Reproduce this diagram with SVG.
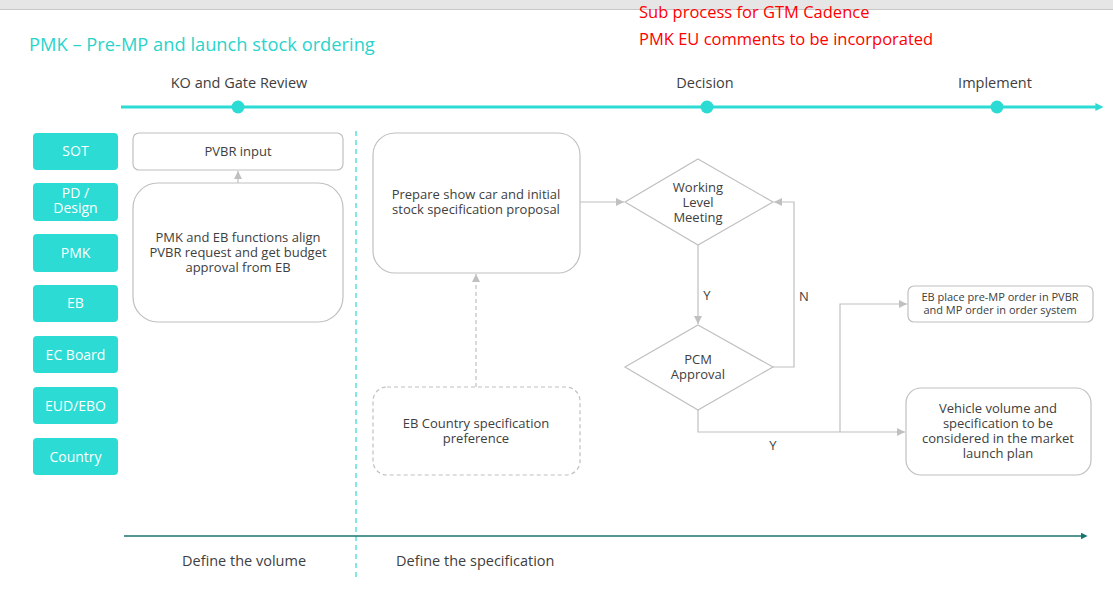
<svg xmlns="http://www.w3.org/2000/svg" width="1113" height="593" viewBox="0 0 1113 593">
<defs>
<style>
text{font-family:"Open Sans","Noto Sans","Liberation Sans",sans-serif;fill:#404040;}
.lane rect{fill:#2bdbd4;}
.lane text{fill:#ffffff;font-size:14px;text-anchor:middle;}
.box{fill:#ffffff;stroke:#c0c0c0;stroke-width:1.2;}
.dbox{fill:#ffffff;stroke:#c0c0c0;stroke-width:1.2;stroke-dasharray:4 3;}
.t{font-size:13px;text-anchor:middle;}
.c{fill:none;stroke:#c0c0c0;stroke-width:1.2;}
.hdr{font-size:14.5px;text-anchor:middle;}
.red{fill:#ff0000;font-size:16.5px;}
</style>
<marker id="ah" viewBox="0 0 10 10" refX="10" refY="5" markerWidth="8" markerHeight="8" markerUnits="userSpaceOnUse" orient="auto"><path d="M0,0 L10,5 L0,10 z" fill="#c0c0c0"/></marker>
<marker id="tah" viewBox="0 0 10 10" refX="2" refY="5" markerWidth="8" markerHeight="8" markerUnits="userSpaceOnUse" orient="auto"><path d="M0,0 L10,5 L0,10 z" fill="#2bdbd4"/></marker>
<marker id="dah" viewBox="0 0 10 10" refX="2" refY="5" markerWidth="7" markerHeight="7" markerUnits="userSpaceOnUse" orient="auto"><path d="M0,0 L10,5 L0,10 z" fill="#1a7470"/></marker>
</defs>
<rect x="0" y="0" width="1113" height="593" fill="#ffffff"/>
<rect x="0" y="0" width="1113" height="9" fill="#e6e6e6"/>
<line x1="0" y1="9.5" x2="1113" y2="9.5" stroke="#c8c8c8" stroke-width="1"/>

<g id="title"><text x="29" y="51" style="fill:#2bd3cc;font-size:18.3px">PMK – Pre-MP and launch stock ordering</text></g>
<g id="notes">
<text class="red" x="639" y="18">Sub process for GTM Cadence</text>
<text class="red" x="639" y="45">PMK EU comments to be incorporated</text>
</g>

<g id="timeline">
<line x1="121" y1="107" x2="1097" y2="107" stroke="#2bdbd4" stroke-width="3" marker-end="url(#tah)"/>
<circle cx="238" cy="107" r="6.5" fill="#2bdbd4"/>
<circle cx="707" cy="107" r="6.5" fill="#2bdbd4"/>
<circle cx="997" cy="107" r="6.5" fill="#2bdbd4"/>
<text class="hdr" x="239" y="88">KO and Gate Review</text>
<text class="hdr" x="705" y="88">Decision</text>
<text class="hdr" x="995" y="88">Implement</text>
</g>

<g id="lanes" class="lane">
<g id="lane-sot"><rect x="33" y="133" width="85" height="37" rx="4"/><text x="75.5" y="156">SOT</text></g>
<g id="lane-pd"><rect x="33" y="183" width="85" height="38" rx="4"/><text x="75.5" y="198">PD /<tspan x="75.5" dy="15">Design</tspan></text></g>
<g id="lane-pmk"><rect x="33" y="234" width="85" height="38" rx="4"/><text x="75.5" y="258">PMK</text></g>
<g id="lane-eb"><rect x="33" y="285" width="85" height="37" rx="4"/><text x="75.5" y="308">EB</text></g>
<g id="lane-ec"><rect x="33" y="336" width="85" height="37" rx="4"/><text x="75.5" y="360">EC Board</text></g>
<g id="lane-eud"><rect x="33" y="387" width="85" height="37" rx="4"/><text x="75.5" y="411">EUD/EBO</text></g>
<g id="lane-country"><rect x="33" y="438" width="85" height="37" rx="4"/><text x="75.5" y="462">Country</text></g>
</g>

<line x1="356" y1="131" x2="356" y2="578" stroke="#2bdbd4" stroke-width="1.2" stroke-dasharray="5 4"/>

<g id="connectors">
<line class="c" x1="238" y1="183" x2="238" y2="171" marker-end="url(#ah)"/>
<line class="c" x1="476" y1="387" x2="476" y2="274" stroke-dasharray="4 3" marker-end="url(#ah)"/>
<line class="c" x1="580" y1="202" x2="624" y2="202" marker-end="url(#ah)"/>
<line class="c" x1="698" y1="245" x2="698" y2="324" marker-end="url(#ah)"/>
<polyline class="c" points="773,367 794,367 794,202 774,202" marker-end="url(#ah)"/>
<polyline class="c" points="698,410 698,432 905,432" marker-end="url(#ah)"/>
<polyline class="c" points="840,432 840,304 907,304" marker-end="url(#ah)"/>
<text x="707" y="300" style="font-size:13px;text-anchor:middle">Y</text>
<text x="804" y="301" style="font-size:13px;text-anchor:middle">N</text>
<text x="773" y="450" style="font-size:13px;text-anchor:middle">Y</text>
</g>

<g id="n-pvbr"><rect class="box" x="133" y="133" width="210" height="37" rx="6"/><text class="t" x="238" y="156">PVBR input</text></g>
<g id="n-align"><rect class="box" x="133" y="183" width="210" height="139" rx="25"/>
<text class="t" x="238" y="242">PMK and EB functions align<tspan x="238" dy="15">PVBR request and get budget</tspan><tspan x="238" dy="15">approval from EB</tspan></text></g>
<g id="n-prepare"><rect class="box" x="373" y="133" width="207" height="140" rx="22"/>
<text class="t" x="476" y="199">Prepare show car and initial<tspan x="476" dy="15">stock specification proposal</tspan></text></g>
<g id="n-country"><rect class="dbox" x="373" y="387" width="207" height="88" rx="14"/>
<text class="t" x="476" y="428">EB Country specification<tspan x="476" dy="15">preference</tspan></text></g>
<g id="n-wlm"><polygon class="box" points="698,159 773,202 698,245 625,202"/>
<text class="t" x="698" y="192">Working<tspan x="698" dy="15">Level</tspan><tspan x="698" dy="15">Meeting</tspan></text></g>
<g id="n-pcm"><polygon class="box" points="698,325 773,367 698,410 625,367"/>
<text class="t" x="698" y="364">PCM<tspan x="698" dy="15">Approval</tspan></text></g>
<g id="n-ebplace"><rect class="box" x="908" y="286" width="185" height="36" rx="6"/>
<text x="1000" y="301" style="font-size:11px;text-anchor:middle">EB place pre-MP order in PVBR<tspan x="1000" dy="13">and MP order in order system</tspan></text></g>
<g id="n-vehicle"><rect class="box" x="906" y="388" width="185" height="87" rx="15"/>
<text class="t" x="998" y="413">Vehicle volume and<tspan x="998" dy="15">specification to be</tspan><tspan x="998" dy="15">considered in the market</tspan><tspan x="998" dy="15">launch plan</tspan></text></g>

<g id="phases">
<line x1="124" y1="536" x2="1082" y2="536" stroke="#1a7470" stroke-width="1.5" marker-end="url(#dah)"/>
<text class="hdr" x="244" y="566">Define the volume</text>
<text x="396" y="566" style="font-size:14.5px">Define the specification</text>
</g>
</svg>
